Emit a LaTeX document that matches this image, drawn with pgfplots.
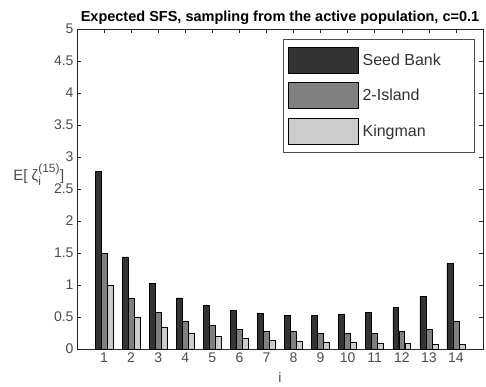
\documentclass[border=0pt]{standalone}
\usepackage{pgfplots}
\pgfplotsset{compat=1.18}
\usepackage{fontspec}
\setmainfont{Liberation Sans}

\definecolor{sbank}{gray}{0.20}
\definecolor{island}{gray}{0.50}
\definecolor{kingman}{gray}{0.80}
\definecolor{axgray}{gray}{0.15}

% Expected site frequency spectrum, i = 1..14
\pgfplotstableread{
i  seedbank  island  kingman
1  2.78  1.50  1.000
2  1.44  0.80  0.500
3  1.02  0.57  0.333
4  0.80  0.43  0.250
5  0.68  0.375 0.200
6  0.60  0.31  0.167
7  0.56  0.28  0.143
8  0.52  0.27  0.125
9  0.52  0.245 0.111
10 0.55  0.24  0.100
11 0.57  0.24  0.091
12 0.65  0.27  0.083
13 0.82  0.31  0.077
14 1.34  0.44  0.071
}\sfsdata

\newcommand{\lblfont}{\fontsize{14}{16}\selectfont}
\newcommand{\legentry}[1]{\makebox[106pt][l]{#1}}

\begin{document}
\begin{tikzpicture}
\begin{axis}[
  at={(0pt,0pt)}, anchor=south west,
  scale only axis, width=406pt, height=320pt,
  xmin=0, xmax=15, ymin=0, ymax=5,
  xtick={1,...,14}, ytick={0,0.5,...,5},
  tick align=inside, major tick length=4pt,
  tick style={axgray, line width=0.5pt},
  axis line style={axgray, line width=0.6pt},
  ticklabel style={font=\lblfont, text=black!70},
  /pgf/number format/assume math mode=true,
  title={\bfseries Expected SFS, sampling from the active population, c=0.1},
  title style={font=\fontsize{14.5}{16}\selectfont, yshift=-5pt},
  xlabel={i},
  xlabel style={font=\lblfont, text=black!70, yshift=-3pt},
  ylabel={E[ ζ$^{\mbox{\fontsize{12}{13}\selectfont(15)}}_{\mbox{\fontsize{12}{13}\selectfont i}}$]},
  ylabel style={font=\fontsize{15}{17}\selectfont, text=black!70, rotate=-90,
    at={(axis description cs:-0.094,0.545)}, anchor=center},
  legend image code/.code={\draw[#1, draw=black] (0pt,-13pt) rectangle (70pt,13pt);},
  legend style={at={(axis description cs:0.980,0.969)}, anchor=north east,
    draw=black!70, line width=0.6pt, inner xsep=5pt, inner ysep=7.5pt,
    row sep=9pt, column sep=3pt,
    font=\fontsize{16}{18}\selectfont, text=black!80,
    nodes={inner sep=1pt, anchor=west}},
  legend cell align=left,
]
\addplot[ybar, bar width=0.22, bar shift=-0.222, fill=sbank, draw=black, line width=0.6pt]
  table[x=i, y=seedbank] {\sfsdata};
\addlegendentry{\legentry{Seed Bank}}
\addplot[ybar, bar width=0.22, bar shift=0, fill=island, draw=black, line width=0.6pt]
  table[x=i, y=island] {\sfsdata};
\addlegendentry{\legentry{2-Island}}
\addplot[ybar, bar width=0.22, bar shift=0.222, fill=kingman, draw=black, line width=0.6pt]
  table[x=i, y=kingman] {\sfsdata};
\addlegendentry{\legentry{Kingman}}
\end{axis}
\pgfresetboundingbox
\useasboundingbox (-77pt,-37pt) rectangle (409pt,349pt);
\end{tikzpicture}
\end{document}
